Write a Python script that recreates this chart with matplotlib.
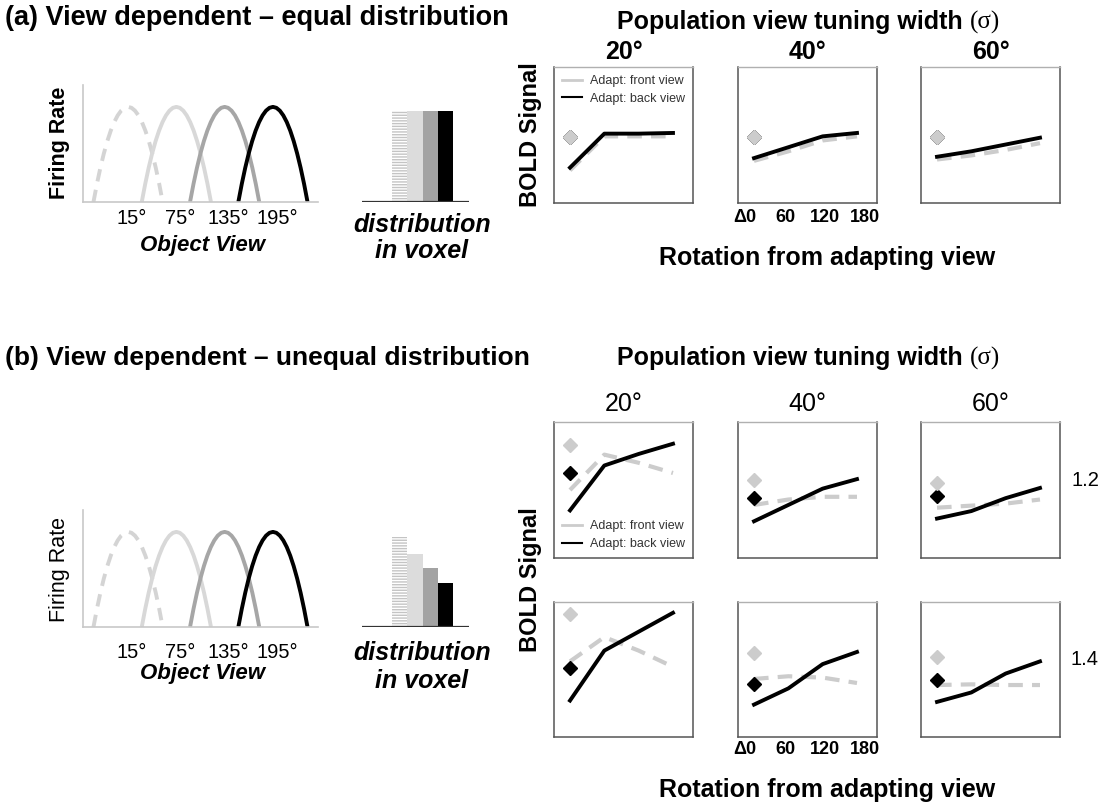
import matplotlib
matplotlib.use('Agg')
import matplotlib.pyplot as plt
from matplotlib.lines import Line2D

plt.rcParams['font.family'] = ['Liberation Sans', 'DejaVu Sans']

W, H = 1100, 807

# tuning curves: preferred views and half-width (deg)
pref_views = [15, 75, 135, 195]
view_labels = ['15°', '75°', '135°', '195°']
half_width = 43
# half profile of one tuning curve, from peak (0) to base (1) of the half-width
profile_u = [0.0, 0.1, 0.2, 0.3, 0.4, 0.5, 0.6, 0.7, 0.8, 0.9, 1.0]
profile_h = [1.0, 0.99, 0.96, 0.91, 0.84, 0.75, 0.64, 0.51, 0.36, 0.19, 0.0]
curve_colors = ['#d4d4d4', '#d8d8d8', '#a6a6a6', '#000000']
curve_dashed = [True, False, False, False]

# relative number of neurons per preferred view in the voxel
dist_equal = [1.0, 1.0, 1.0, 1.0]
dist_unequal = [1.0, 0.81, 0.66, 0.49]
bar_colors = ['white', '#dcdcdc', '#a3a3a3', '#000000']

# adaptation simulations
rotation = [0, 60, 120, 180]
rot_labels = ['Δ0', '60', '120', '180']
sigmas = ['20°', '40°', '60°']

eq_back = [[0.26, 0.51, 0.51, 0.515], [0.33, 0.41, 0.49, 0.515], [0.34, 0.38, 0.43, 0.48]]
eq_front = [[0.24, 0.49, 0.49, 0.49], [0.31, 0.38, 0.46, 0.49], [0.32, 0.35, 0.39, 0.44]]
eq_dia_back = [0.485, 0.485, 0.485]
eq_dia_front = [0.485, 0.485, 0.485]

r12_back = [[0.35, 0.68, 0.765, 0.84], [0.27, 0.39, 0.51, 0.58], [0.29, 0.345, 0.44, 0.515]]
r12_front = [[0.50, 0.76, 0.70, 0.625], [0.39, 0.43, 0.45, 0.45], [0.37, 0.385, 0.40, 0.43]]
r12_dia_back = [0.625, 0.44, 0.455]
r12_dia_front = [0.83, 0.57, 0.55]

r14_back = [[0.27, 0.64, 0.78, 0.92], [0.24, 0.36, 0.54, 0.63], [0.26, 0.33, 0.47, 0.56]]
r14_front = [[0.56, 0.74, 0.64, 0.52], [0.43, 0.45, 0.44, 0.40], [0.385, 0.39, 0.385, 0.385]]
r14_dia_back = [0.51, 0.39, 0.42]
r14_dia_front = [0.91, 0.62, 0.59]

GRAY = '#cccccc'

fig = plt.figure(figsize=(W / 100, H / 100), dpi=100)


def px_axes(x0, y0, x1, y1):
    return fig.add_axes([x0 / W, 1 - y1 / H, (x1 - x0) / W, (y1 - y0) / H])


def ftext(x, y, s, **kw):
    kw.setdefault('ha', 'center')
    kw.setdefault('va', 'center')
    return fig.text(x / W, 1 - y / H, s, **kw)


def tuning_panel(y0, y1):
    ax = px_axes(83, y0, 318, y1)
    for c, col, dashed in zip(pref_views, curve_colors, curve_dashed):
        xs = [c - u * half_width for u in profile_u[::-1]] + [c + u * half_width for u in profile_u[1:]]
        ys = profile_h[::-1] + profile_h[1:]
        ax.plot(xs, ys, color=col, lw=2.8, ls=(0, (3.2, 2.2)) if dashed else '-',
                solid_capstyle='butt')
    ax.set_xlim(-41, 251)
    ax.set_ylim(0, 1.23)
    for s in ['top', 'right']:
        ax.spines[s].set_visible(False)
    for s in ['left', 'bottom']:
        ax.spines[s].set_color('#c8c8c8')
        ax.spines[s].set_linewidth(1.2)
    ax.set_xticks([])
    ax.set_yticks([])
    return ax


def dist_panel(y_base, unit_px, heights):
    top = y_base - 1.2 * unit_px
    ax = px_axes(362, top, 469, y_base)
    ax.bar(range(len(heights)), heights, width=1.0, color=bar_colors, lw=0)
    ax.patches[0].set_hatch('------')
    ax.patches[0].set_edgecolor('#c4c4c4')
    ax.axhline(0, color='#333333', lw=1.6)
    ax.set_xlim(-2.46, 4.53)
    ax.set_ylim(0, 1.2)
    ax.axis('off')
    return ax


def adapt_panel(x0, y0, x1, y1, back, front, dia_back, dia_front):
    ax = px_axes(x0, y0, x1, y1)
    ax.plot(rotation, front, color=GRAY, lw=3.0, ls=(0, (3.5, 2.2)))
    ax.plot(rotation, back, color='black', lw=2.8)
    ax.plot([0], [dia_back], marker='D', ms=7, color='black', ls='none')
    ax.plot([0], [dia_front], marker='D', ms=7, color=GRAY, ls='none')
    ax.set_xlim(-28, 215)
    ax.set_ylim(0, 1)
    ax.set_xticks([])
    ax.set_yticks([])
    for s in ['left', 'bottom', 'right']:
        ax.spines[s].set_color('#555555')
        ax.spines[s].set_linewidth(1.1)
    ax.spines['top'].set_color('#b0b0b0')
    ax.spines['top'].set_linewidth(1.0)
    return ax


def population_title(y):
    t = ftext(970, y, 'Population view tuning width ', fontsize=18, fontweight='bold', ha='right')
    plt.annotate('(σ)', xy=(1, 0.5), xycoords=t, va='center', ha='left', fontsize=18,
                 family=['Liberation Serif', 'DejaVu Serif'])


def rotation_labels(y):
    # labels under the middle column, spread a little wider than the data points
    for k, lab in enumerate(rot_labels):
        ftext(745 + 40 * k, y, lab, fontsize=13, fontweight='bold')


col_x = [(554, 693), (738, 877), (921, 1060)]
legend_handles = [Line2D([], [], color=GRAY, lw=2), Line2D([], [], color='black', lw=1.5)]
legend_labels = ['Adapt: front view', 'Adapt: back view']

# ---- (a) equal distribution ----
ftext(5, 18, '(a) View dependent – equal distribution', ha='left', fontsize=19.5, fontweight='bold')
tuning_panel(85, 202)
ftext(60, 143, 'Firing Rate', rotation=90, fontsize=15.5, fontweight='bold')
for v, lab in zip(pref_views, view_labels):
    ftext(83 + (v + 41) / 292 * 235 + 4, 219, lab, fontsize=14.5)
ftext(203, 245, 'Object View', fontsize=16, fontweight='bold', style='italic')
dist_panel(202, 91, dist_equal)
ftext(422, 225, 'distribution', fontsize=18, fontweight='bold', style='italic')
ftext(422, 251, 'in voxel', fontsize=18, fontweight='bold', style='italic')

population_title(22)
for i, (x0, x1) in enumerate(col_x):
    ax = adapt_panel(x0, 67, x1, 203, eq_back[i], eq_front[i], eq_dia_back[i], eq_dia_front[i])
    ftext((x0 + x1) / 2, 52, sigmas[i], fontsize=18, fontweight='bold')
    if i == 0:
        ax.legend(legend_handles, legend_labels, loc='upper left', frameon=False,
                  fontsize=9, handlelength=1.6, handletextpad=0.6, borderaxespad=0.25,
                  labelspacing=0.45, labelcolor='#333333')
rotation_labels(217)
ftext(531, 135, 'BOLD Signal', rotation=90, fontsize=17, fontweight='bold')
ftext(827, 258, 'Rotation from adapting view', fontsize=18, fontweight='bold')

# ---- (b) unequal distribution ----
ftext(5, 358, '(b) View dependent – unequal distribution', ha='left', fontsize=19, fontweight='bold')
tuning_panel(510, 627)
ftext(60, 569, 'Firing Rate', rotation=90, fontsize=15.5)
for v, lab in zip(pref_views, view_labels):
    ftext(83 + (v + 41) / 292 * 235 + 4, 653, lab, fontsize=14.5)
ftext(203, 674, 'Object View', fontsize=16, fontweight='bold', style='italic')
dist_panel(627, 90, dist_unequal)
ftext(422, 653, 'distribution', fontsize=18, fontweight='bold', style='italic')
ftext(422, 681, 'in voxel', fontsize=18, fontweight='bold', style='italic')

population_title(358)
rows = [(422, 558, r12_back, r12_front, r12_dia_back, r12_dia_front, '1.2'),
        (602, 737, r14_back, r14_front, r14_dia_back, r14_dia_front, '1.4')]
for r, (y0, y1, back, front, dback, dfront, ratio) in enumerate(rows):
    for i, (x0, x1) in enumerate(col_x):
        ax = adapt_panel(x0, y0, x1, y1, back[i], front[i], dback[i], dfront[i])
        if r == 0:
            ftext((x0 + x1) / 2, 404, sigmas[i], fontsize=18)
            if i == 0:
                ax.legend(legend_handles, legend_labels, loc='lower left', frameon=False,
                          fontsize=9, handlelength=1.6, handletextpad=0.6, borderaxespad=0.25,
                          labelspacing=0.45, labelcolor='#333333')
    ftext(1099, (y0 + y1) / 2 - 10, ratio, fontsize=14.5, ha='right')
rotation_labels(750)
ftext(531, 580, 'BOLD Signal', rotation=90, fontsize=17, fontweight='bold')
ftext(827, 790, 'Rotation from adapting view', fontsize=18, fontweight='bold')

fig.savefig('out.png', dpi=100)
